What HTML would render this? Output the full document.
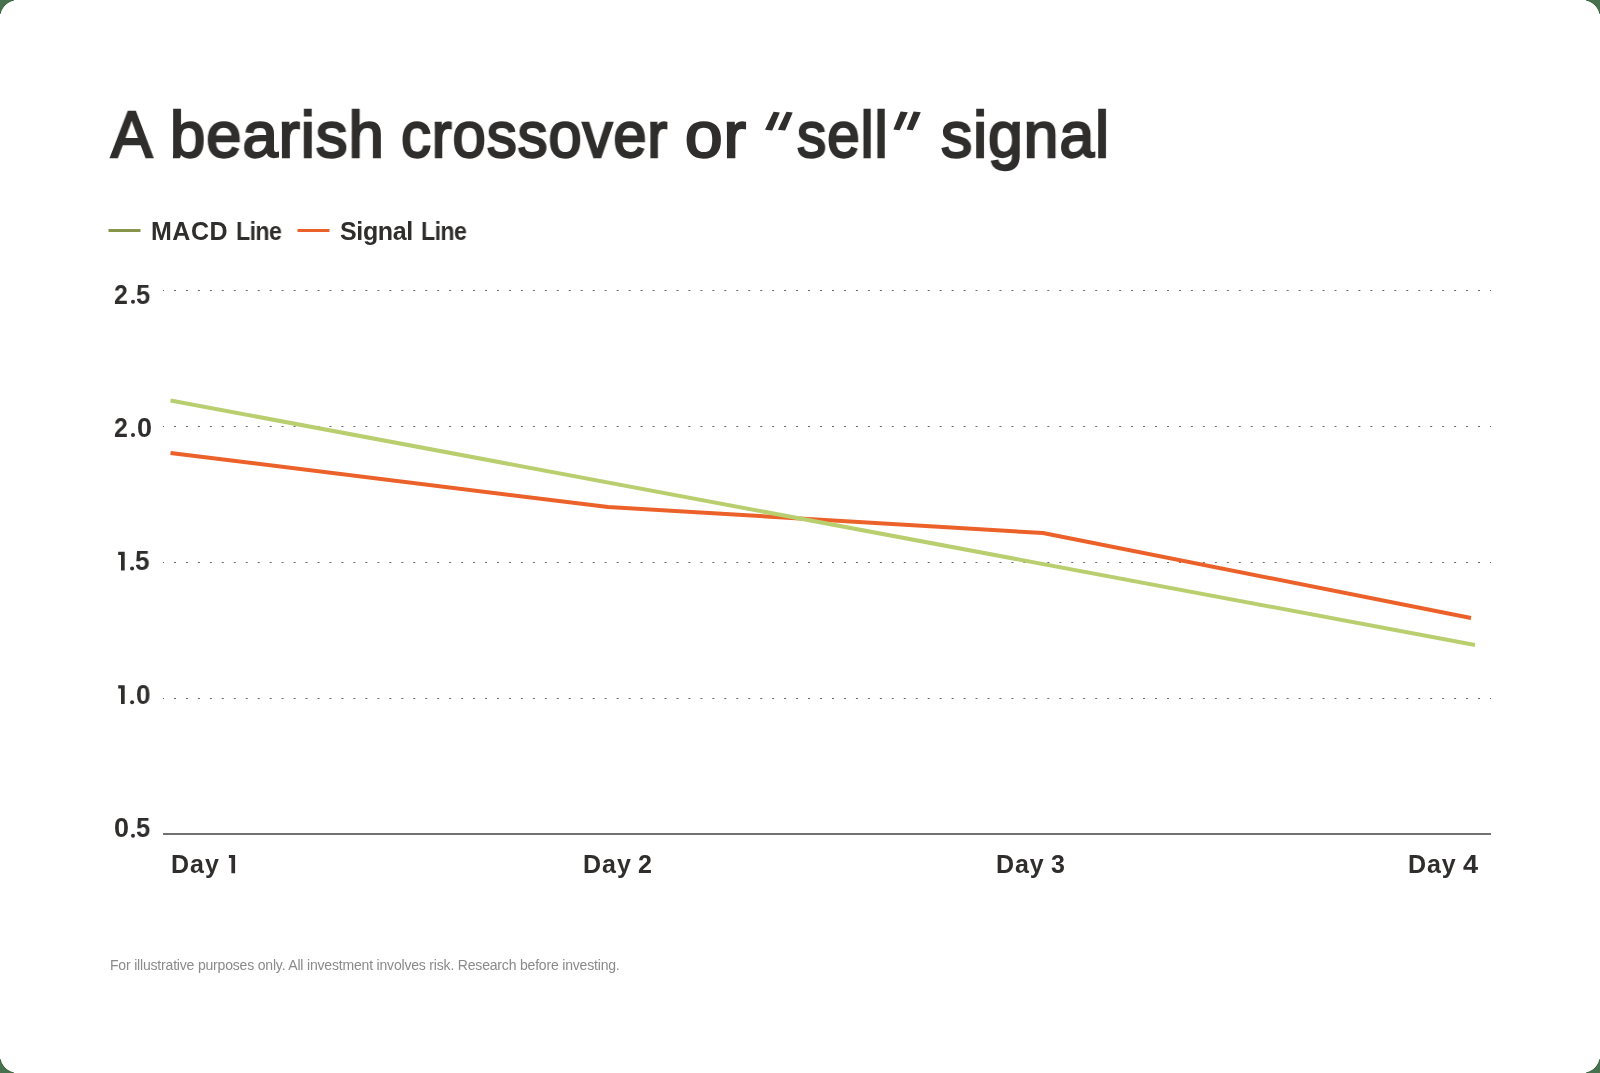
<!DOCTYPE html>
<html>
<head>
<meta charset="utf-8">
<style>
html,body{margin:0;padding:0;width:1600px;height:1073px;overflow:hidden;background:#fff;}
.t{position:absolute;white-space:nowrap;font-family:"Liberation Sans",sans-serif;line-height:1;will-change:transform;}
svg{position:absolute;left:0;top:0;}
</style>
</head>
<body>
<svg width="1600" height="1073" viewBox="0 0 1600 1073">
  <g stroke="#6b6b6b" stroke-width="1" stroke-dasharray="2 9.964" stroke-dashoffset="1" fill="none">
    <line x1="163" y1="290.5" x2="1491" y2="290.5"/>
    <line x1="163" y1="426.5" x2="1491" y2="426.5"/>
    <line x1="163" y1="562.5" x2="1491" y2="562.5"/>
    <line x1="163" y1="698.5" x2="1491" y2="698.5"/>
  </g>
  <line x1="163" y1="834" x2="1491" y2="834" stroke="#717171" stroke-width="2"/>
  <polyline points="170.5,453 608,507 1043,533 1471,618" fill="none" stroke="#ec6029" stroke-width="4" stroke-linejoin="round"/>
  <polyline points="170.5,400.5 1475,645" fill="none" stroke="#b9cf6f" stroke-width="4"/>
  <rect x="108.5" y="229" width="32" height="3" fill="#87954b"/>
  <rect x="297.5" y="229" width="32" height="3" fill="#ec6029"/>
  <g fill="#302e2c">
    <circle cx="133" cy="301.7" r="2"/>
    <circle cx="133" cy="435.1" r="2"/>
    <circle cx="132.1" cy="568.5" r="2"/>
    <circle cx="132.1" cy="702.2" r="2"/>
    <circle cx="133" cy="835.7" r="2"/>
    <path d="M118.2 551.7H124.7V570.4H121V555L118.2 554.9Z"/>
    <path d="M118.2 685.2H124.7V703.9H121V688.5L118.2 688.4Z"/>
    <path d="M228.9 854.9H235.1V873.2H231.4V858L228.9 858Z"/>
  </g>
  <g fill="#302e2c" id="quotes">
    <polygon points="773.6,111.8 779.8,112.4 772.2,130.4 765.0,129.7"/>
    <polygon points="786.5,111.8 792.7,112.4 785.1,130.4 777.9,129.7"/>
    <polygon points="900.6,111.6 907.8,112.2 899.6,130.2 893.4,129.6"/>
    <polygon points="913.6,111.6 920.8,112.2 912.8,130.2 906.6,129.6"/>
  </g>
  <g id="corners">
    <g><path d="M0 0H14L10.5 1.2L8 2.5L6 4L4 6L2.5 8L1.2 10.5L0 14Z" fill="#48724e"/><path d="M14 0L10.5 1.2L8 2.5L6 4L4 6L2.5 8L1.2 10.5L0 14" fill="none" stroke="#2a5a30" stroke-width="0.9"/></g>
    <g transform="translate(1600 0) scale(-1 1)"><path d="M0 0H14L10.5 1.2L8 2.5L6 4L4 6L2.5 8L1.2 10.5L0 14Z" fill="#48724e"/><path d="M14 0L10.5 1.2L8 2.5L6 4L4 6L2.5 8L1.2 10.5L0 14" fill="none" stroke="#2a5a30" stroke-width="0.9"/></g>
    <g transform="translate(0 1073) scale(1 -1)"><path d="M0 0H14L10.5 1.2L8 2.5L6 4L4 6L2.5 8L1.2 10.5L0 14Z" fill="#48724e"/><path d="M14 0L10.5 1.2L8 2.5L6 4L4 6L2.5 8L1.2 10.5L0 14" fill="none" stroke="#2a5a30" stroke-width="0.9"/></g>
    <g transform="translate(1600 1073) scale(-1 -1)"><path d="M0 0H14L10.5 1.2L8 2.5L6 4L4 6L2.5 8L1.2 10.5L0 14Z" fill="#48724e"/><path d="M14 0L10.5 1.2L8 2.5L6 4L4 6L2.5 8L1.2 10.5L0 14" fill="none" stroke="#2a5a30" stroke-width="0.9"/></g>
  </g>
</svg>

<div class="t" id="t1" style="left:111.03px;top:102.8px;font-size:64px;font-weight:normal;letter-spacing:1.0px;color:#302e2c;-webkit-text-stroke:2.3px #302e2c;transform:scaleX(0.9674);transform-origin:0 0;">A</div>
<div class="t" id="t2" style="left:170.13px;top:102.8px;font-size:64px;font-weight:normal;letter-spacing:1.0px;color:#302e2c;-webkit-text-stroke:2.3px #302e2c;transform:scaleX(0.9905);transform-origin:0 0;">bearish</div>
<div class="t" id="t3" style="left:401.27px;top:102.8px;font-size:64px;font-weight:normal;letter-spacing:1.0px;color:#302e2c;-webkit-text-stroke:2.3px #302e2c;transform:scaleX(0.9333);transform-origin:0 0;">crossover</div>
<div class="t" id="t4" style="left:685.05px;top:102.8px;font-size:64px;font-weight:normal;letter-spacing:1.0px;color:#302e2c;-webkit-text-stroke:2.3px #302e2c;transform:scaleX(1.0544);transform-origin:0 0;">or</div>
<div class="t" id="t5" style="left:797.2px;top:102.8px;font-size:64px;font-weight:normal;letter-spacing:1.0px;color:#302e2c;-webkit-text-stroke:2.3px #302e2c;transform:scaleX(0.9146);transform-origin:0 0;">sell</div>
<div class="t" id="t6" style="left:941.2px;top:102.8px;font-size:64px;font-weight:normal;letter-spacing:1.0px;color:#302e2c;-webkit-text-stroke:2.3px #302e2c;transform:scaleX(0.9753);transform-origin:0 0;">signal</div>
<div class="t" id="leg1a" style="left:150.9px;top:219.0px;font-size:25px;font-weight:bold;letter-spacing:0.533px;color:#302e2c;">MACD</div>
<div class="t" id="leg1b" style="left:235.98px;top:219.0px;font-size:25px;font-weight:bold;letter-spacing:-0.6px;color:#302e2c;transform:scaleX(0.924);transform-origin:0 0;">Line</div>
<div class="t" id="leg2a" style="left:339.6px;top:219.0px;font-size:25px;font-weight:bold;letter-spacing:-0.34px;color:#302e2c;">Signal</div>
<div class="t" id="leg2b" style="left:420.98px;top:219.0px;font-size:25px;font-weight:bold;letter-spacing:-0.6px;color:#302e2c;transform:scaleX(0.924);transform-origin:0 0;">Line</div>
<div class="t" id="y1a" style="left:114.25px;top:281.5px;font-size:27px;font-weight:bold;letter-spacing:0.0px;color:#302e2c;transform:scaleX(0.9167);transform-origin:0 0;">2</div>
<div class="t" id="y1b" style="left:136.3px;top:281.5px;font-size:27px;font-weight:bold;letter-spacing:0.0px;color:#302e2c;transform:scaleX(0.9464);transform-origin:0 0;">5</div>
<div class="t" id="y2a" style="left:114.25px;top:414.9px;font-size:27px;font-weight:bold;letter-spacing:0.0px;color:#302e2c;transform:scaleX(0.9167);transform-origin:0 0;">2</div>
<div class="t" id="y2b" style="left:137.0px;top:414.9px;font-size:27px;font-weight:bold;letter-spacing:0.0px;color:#302e2c;transform:scaleX(0.9833);transform-origin:0 0;">0</div>
<div class="t" id="y3b" style="left:135.29px;top:548.4px;font-size:27px;font-weight:bold;letter-spacing:0.0px;color:#302e2c;transform:scaleX(0.9643);transform-origin:0 0;">5</div>
<div class="t" id="y4b" style="left:136.25px;top:681.9px;font-size:27px;font-weight:bold;letter-spacing:0.0px;color:#302e2c;transform:scaleX(0.9667);transform-origin:0 0;">0</div>
<div class="t" id="y5a" style="left:114.0px;top:815.4px;font-size:27px;font-weight:bold;letter-spacing:0.0px;color:#302e2c;">0</div>
<div class="t" id="y5b" style="left:136.3px;top:815.4px;font-size:27px;font-weight:bold;letter-spacing:0.0px;color:#302e2c;transform:scaleX(0.9464);transform-origin:0 0;">5</div>
<div class="t" id="x1" style="left:170.8px;top:852.2px;font-size:25px;font-weight:bold;letter-spacing:1.0px;color:#302e2c;">Day</div>
<div class="t" id="x2" style="left:583.06px;top:852.2px;font-size:25px;font-weight:bold;letter-spacing:0.97px;color:#302e2c;">Day</div>
<div class="t" id="x3" style="left:995.5px;top:852.2px;font-size:25px;font-weight:bold;letter-spacing:0.85px;color:#302e2c;">Day</div>
<div class="t" id="x4" style="left:1407.8px;top:852.2px;font-size:25px;font-weight:bold;letter-spacing:0.95px;color:#302e2c;">Day</div>
<div class="t" id="x2d" style="left:638.0px;top:852.2px;font-size:25px;font-weight:bold;letter-spacing:0.0px;color:#302e2c;transform:scaleX(0.9857);transform-origin:0 0;">2</div>
<div class="t" id="x3d" style="left:1050.5px;top:852.2px;font-size:25px;font-weight:bold;letter-spacing:0.0px;color:#302e2c;transform:scaleX(0.9643);transform-origin:0 0;">3</div>
<div class="t" id="x4d" style="left:1462.8px;top:852.2px;font-size:25px;font-weight:bold;letter-spacing:0.0px;color:#302e2c;transform:scaleX(1.0857);transform-origin:0 0;">4</div>
<div class="t" id="foot" style="left:110.0px;top:958.0px;font-size:14px;font-weight:normal;letter-spacing:-0.184px;color:#8a8a8a;">For illustrative purposes only. All investment involves risk. Research before investing.</div>
</body>
</html>
